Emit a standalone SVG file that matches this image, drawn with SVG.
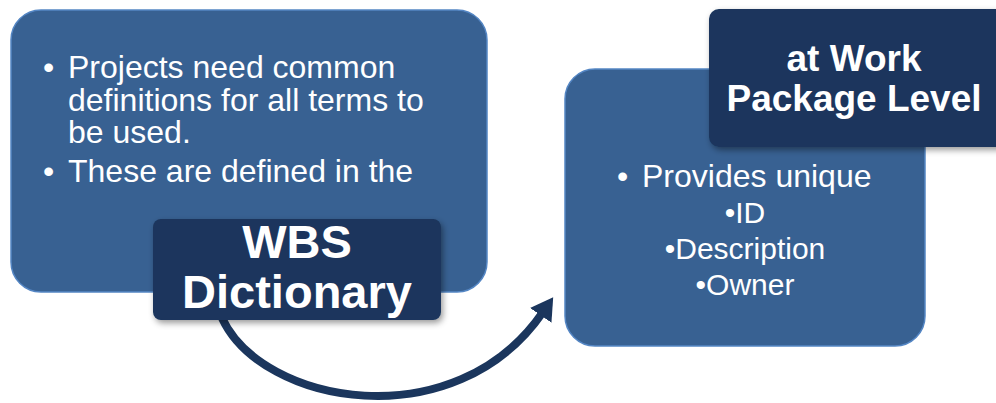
<svg xmlns="http://www.w3.org/2000/svg" width="996" height="403" viewBox="0 0 996 403">
<style>
.box{fill:#386192;stroke:#5486c4;stroke-width:1.5}
.dark{fill:#1b365d}
.t{font-family:"Liberation Sans",Arial,sans-serif;fill:#ffffff}
.b{font-weight:bold}
.conn{fill:none;stroke:#1b365d;stroke-width:8}
</style>
<defs>
<filter id="sh" x="-10%" y="-10%" width="125%" height="130%">
<feDropShadow dx="2" dy="3" stdDeviation="3" flood-color="#000" flood-opacity="0.4"/>
</filter>
<marker id="ah" markerUnits="userSpaceOnUse" markerWidth="24" markerHeight="26" refX="4" refY="13" orient="auto">
<path d="M0,0 L22,13 L0,26 z" fill="#1b365d"/>
</marker>
</defs>
<rect width="996" height="403" fill="#ffffff"/>
<g id="left-box">
<rect class="box" x="11" y="10" width="476" height="282" rx="30"/>
<text class="t" font-size="32"><tspan x="43" y="78">•</tspan><tspan x="68" y="78">Projects need common</tspan><tspan x="68" y="111">definitions for all terms to</tspan><tspan x="68" y="143">be used.</tspan><tspan x="43" y="182">•</tspan><tspan x="68" y="182">These are defined in the</tspan></text>
</g>
<g id="right-box">
<rect class="box" x="565" y="69" width="360" height="277" rx="30"/>
<text class="t" font-size="32"><tspan x="617" y="187">•</tspan><tspan x="642" y="187">Provides unique</tspan></text>
<text class="t" font-size="30" text-anchor="middle"><tspan x="745" y="223">•ID</tspan><tspan x="745" y="259">•Description</tspan><tspan x="745" y="295">•Owner</tspan></text>
</g>
<g id="connectors">
<path class="conn" d="M222,318 C262,405 455,440 543,312" marker-end="url(#ah)"/>
</g>
<g id="wbs-dictionary">
<rect class="dark" x="153" y="219" width="288" height="101" rx="8" filter="url(#sh)"/>
<text class="t b" font-size="47" text-anchor="middle"><tspan x="297" y="258">WBS</tspan><tspan x="297" y="308">Dictionary</tspan></text>
</g>
<g id="work-package-level">
<rect class="dark" x="709" y="9" width="300" height="138" rx="10" filter="url(#sh)"/>
<text class="t b" font-size="37" text-anchor="middle"><tspan x="854" y="71">at Work</tspan><tspan x="854" y="111">Package Level</tspan></text>
</g>
</svg>
